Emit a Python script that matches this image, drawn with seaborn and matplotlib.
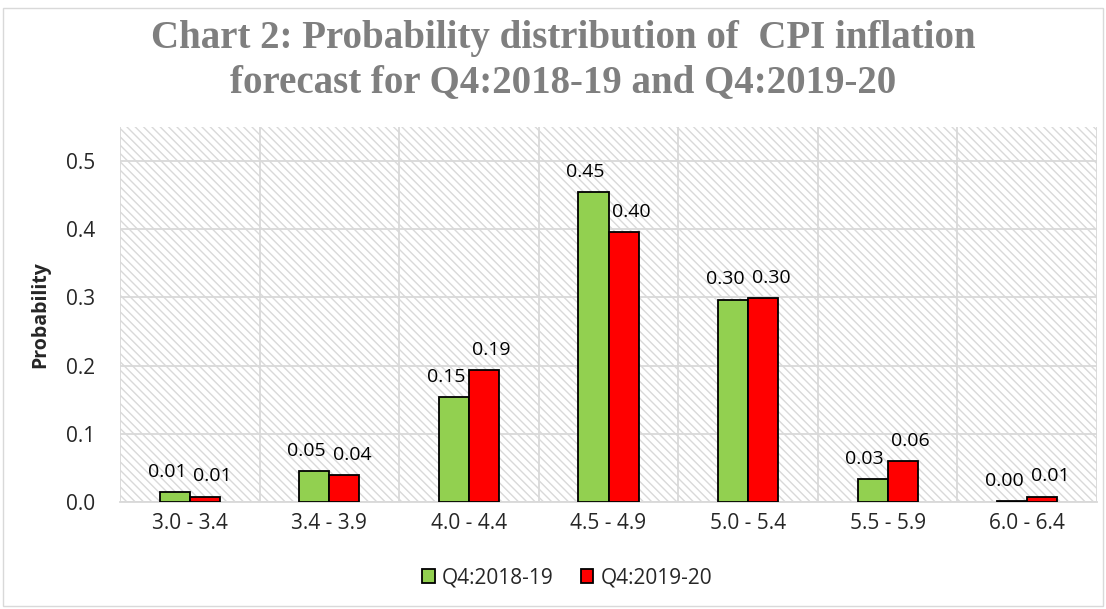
import matplotlib
matplotlib.use("Agg")
import matplotlib.pyplot as plt
import seaborn as sns
import pandas as pd
import numpy as np
from matplotlib.patches import Rectangle

categories = ["3.0 - 3.4", "3.4 - 3.9", "4.0 - 4.4", "4.5 - 4.9", "5.0 - 5.4", "5.5 - 5.9", "6.0 - 6.4"]
series_names = ["Q4:2018-19", "Q4:2019-20"]
q4_2018_19 = [0.014, 0.046, 0.154, 0.454, 0.297, 0.034, 0.002]
q4_2019_20 = [0.008, 0.039, 0.193, 0.396, 0.299, 0.060, 0.008]
yticks = [0.0, 0.1, 0.2, 0.3, 0.4, 0.5]
title_lines = ["Chart 2: Probability distribution of  CPI inflation",
               "forecast for Q4:2018-19 and Q4:2019-20"]

df = pd.DataFrame({
    "range": categories * 2,
    "series": [series_names[0]] * len(categories) + [series_names[1]] * len(categories),
    "prob": q4_2018_19 + q4_2019_20,
})

sns.set_theme(style="white")
plt.rcParams["font.family"] = ["Open Sans", "DejaVu Sans"]
plt.rcParams["hatch.color"] = "#d9d9d9"
plt.rcParams["hatch.linewidth"] = 1.0

W, H = 1106, 609
fig = plt.figure(figsize=(W / 100, H / 100), dpi=100)
ax = fig.add_axes([120 / W, 1 - 502 / H, (1097 - 120) / W, (502 - 127) / H])

bg = Rectangle((0, 0), 1, 1, transform=ax.transAxes, facecolor="white",
               edgecolor="#d9d9d9", hatch="\\\\\\\\", lw=0, zorder=0)
ax.add_patch(bg)

sns.barplot(data=df, x="range", y="prob", hue="series", order=categories,
            hue_order=series_names, palette=["#92d050", "#ff0000"], saturation=1,
            width=0.43, edgecolor="black", linewidth=1.3, ax=ax, zorder=3,
            legend=True)

label_sets = []
for cont in ax.containers:
    label_sets.append(ax.bar_label(cont, fmt="%.2f", padding=8, fontsize=14, color="#000000"))

ax.set_xlim(-0.5, len(categories) - 0.5)
ax.set_ylim(0, 0.55)
ax.set_yticks(yticks)
ax.set_yticklabels([f"{t:.1f}" for t in yticks], fontsize=15)
ax.tick_params(axis="x", labelsize=15, pad=8)
ax.tick_params(axis="y", pad=18)
ax.set_xticks(np.arange(-0.5, len(categories), 1.0), minor=True)
ax.grid(True, axis="y", which="major", color="#d9d9d9", lw=1.3, zorder=1)
ax.grid(True, axis="x", which="minor", color="#d9d9d9", lw=1.3, zorder=1)
ax.grid(False, axis="x", which="major")
ax.set_axisbelow(True)
ax.tick_params(which="both", length=0)
for s in ["top", "right", "left"]:
    ax.spines[s].set_visible(False)
ax.spines["bottom"].set_color("#d9d9d9")
ax.spines["bottom"].set_linewidth(1.3)

ax.set_xlabel("")
ax.set_ylabel("Probability", fontsize=14, fontweight="bold")
ax.yaxis.set_label_coords(-70 / (1097 - 120), 0.5)

handles, labels = ax.get_legend_handles_labels()
ax.legend(handles, labels, loc="center", bbox_to_anchor=(0.513, 0.051),
          bbox_transform=fig.transFigure,
          ncol=2, frameon=False, fontsize=15, handlelength=0.6,
          handleheight=0.6, handletextpad=0.35, columnspacing=1.3)

title_x = 563 / W
fig.text(title_x, 1 - 48 / H, title_lines[0], ha="center", va="baseline", fontsize=28,
         fontweight="bold", color="#7f7f7f", family=["Liberation Serif", "DejaVu Serif"])
fig.text(title_x, 1 - 92 / H, title_lines[1], ha="center", va="baseline", fontsize=28,
         fontweight="bold", color="#7f7f7f", family=["Liberation Serif", "DejaVu Serif"])

fig.patches.append(Rectangle((3 / W, 1 - 606 / H), 1100 / W, 598 / H,
                             transform=fig.transFigure, fill=False,
                             edgecolor="#d9d9d9", lw=1))

# nudge paired value labels apart where they collide horizontally
fig.canvas.draw()
r = fig.canvas.get_renderer()
gap = 7
for tg, tr in zip(label_sets[0], label_sets[1]):
    bg_ = tg.get_window_extent(r)
    br_ = tr.get_window_extent(r)
    overlap = bg_.x1 - br_.x0 + gap
    if overlap > 0:
        shift_pt = overlap / 2 * 72 / fig.dpi
        xg, yg = tg.xyann
        tg.xyann = (xg - shift_pt, yg)
        xr, yr = tr.xyann
        tr.xyann = (xr + shift_pt, yr)

fig.savefig("out.png", dpi=100)
